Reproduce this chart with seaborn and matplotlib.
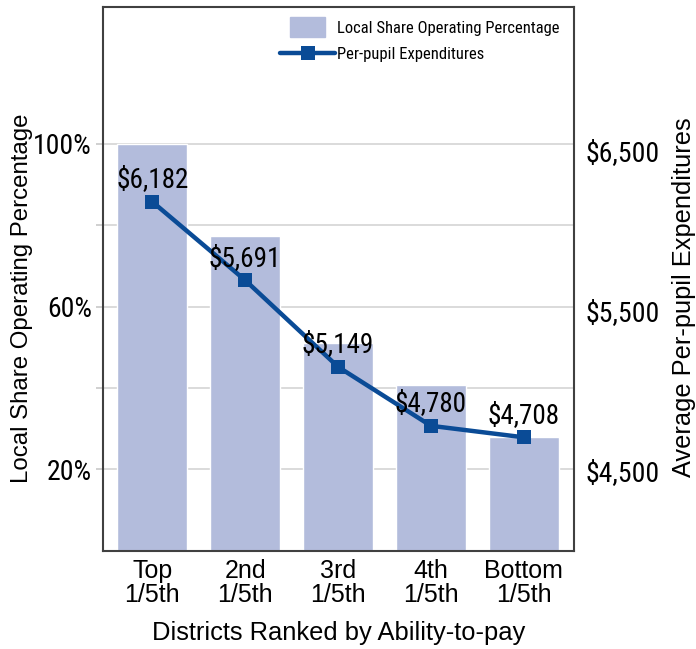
import os
import numpy as np
import pandas as pd
import matplotlib
matplotlib.use("Agg")
import matplotlib.pyplot as plt
import matplotlib.patches as mpatches
from matplotlib import font_manager as fm
from matplotlib.legend_handler import HandlerPatch
import seaborn as sns

# ---- data ----
categories = ["Top\n1/5th", "2nd\n1/5th", "3rd\n1/5th", "4th\n1/5th", "Bottom\n1/5th"]
local_share = [1.00, 0.774, 0.510, 0.407, 0.278]
per_pupil = [6182, 5691, 5149, 4780, 4708]
pct_ticks = [0.2, 0.4, 0.6, 0.8, 1.0]
pct_labels = ["20%", "", "60%", "", "100%"]
dollar_ticks = [4500, 5500, 6500]
dollar_labels = ["$4,500", "$5,500", "$6,500"]

BAR = "#b3bcdc"
LINE = "#0a4b96"
SPINE = "#404040"
GRID = "#d4d4d4"

sns.set_style("white")
plt.rcParams["font.family"] = ["Liberation Sans", "DejaVu Sans"]
for key in ("text.color", "axes.labelcolor", "xtick.color", "ytick.color"):
    plt.rcParams[key] = "black"


def find_face(patterns):
    files = [f.fname for f in fm.fontManager.ttflist]
    for pat in patterns:
        hits = [p for p in files
                if pat.lower() in os.path.basename(p).lower()
                and "bold" not in os.path.basename(p).lower()
                and "italic" not in os.path.basename(p).lower()
                and "light" not in os.path.basename(p).lower()]
        if hits:
            return hits[0]
    return None


# a condensed face for the figures and the legend
narrow_path = find_face(["RobotoCondensed-Regular", "Roboto_Condensed-Regular",
                         "RobotoCondensed", "LiberationSansNarrow-Regular",
                         "NotoSans-Condensed.", "NotoSansDisplay-Condensed."])
if narrow_path:
    NUM = fm.FontProperties(fname=narrow_path, size=20)
    ANN = fm.FontProperties(fname=narrow_path, size=19.5)
    LEG = fm.FontProperties(fname=narrow_path, size=12)
else:
    NUM = fm.FontProperties(family="Liberation Sans", size=17)
    ANN = fm.FontProperties(family="Liberation Sans", size=17)
    LEG = fm.FontProperties(family="Liberation Sans", size=10.5)

W, H = 696, 649
fig = plt.figure(figsize=(W / 100, H / 100), dpi=100)
ax = fig.add_axes([103 / W, 1 - 550.5 / H, 471 / W, 543.5 / H])

df = pd.DataFrame({"group": categories, "share": local_share})
sns.barplot(data=df, x="group", y="share", color=BAR, saturation=1,
            width=0.75, ax=ax, zorder=2)

ax.set_ylim(0, 1.337)
ax.set_yticks(pct_ticks)
ax.set_yticklabels(pct_labels, fontproperties=NUM)
ax.grid(axis="y", color=GRID, lw=1.2, zorder=0)
ax.set_axisbelow(True)
ax.tick_params(axis="y", left=True, right=True, length=5, width=1.2,
               color="#c8c8c8", pad=3)
ax.tick_params(axis="x", length=0, pad=6, labelsize=18)
for lbl in ax.get_xticklabels():
    lbl.set_linespacing(1.0)
ax.set_ylabel("Local Share Operating Percentage", fontsize=17.3)
ax.yaxis.set_label_coords(-0.1486, 0.465)
for s in ax.spines.values():
    s.set_color(SPINE)
    s.set_linewidth(1.5)

ax2 = ax.twinx()
sns.lineplot(x=np.arange(len(per_pupil)), y=per_pupil, ax=ax2, color=LINE,
             lw=3.2, marker="s", markersize=10, markeredgewidth=0)
ax2.set_ylim(4000, 7400)
ax2.set_yticks(dollar_ticks)
ax2.set_yticklabels(dollar_labels, fontproperties=NUM)
ax2.tick_params(axis="y", length=0, pad=8)
ax2.set_ylabel("Average Per-pupil Expenditures", fontsize=18.3)
ax2.yaxis.set_label_coords(1.208, 0.466)
for s in ax2.spines.values():
    s.set_visible(False)

for i, v in enumerate(per_pupil):
    ax2.annotate(f"${v:,}", (i, v), xytext=(0, 10.5), textcoords="offset points",
                 ha="center", va="baseline", fontproperties=ANN)

ax.set_xlim(-0.53, 4.54)
ax.set_xlabel("Districts Ranked by Ability-to-pay", fontsize=18.4, labelpad=10)


def small_rect(legend, orig_handle, xdescent, ydescent, width, height, fontsize):
    w, h = 0.65 * width, 1.7 * height
    return mpatches.Rectangle((-xdescent + (width - w) / 2,
                               -ydescent + (height - h) / 2), w, h)


handles = [mpatches.Patch(color=BAR), ax2.lines[0]]
labels = ["Local Share Operating Percentage", "Per-pupil Expenditures"]
fig.legend(handles, labels, loc="upper left",
           bbox_to_anchor=(280 / W, 1 - 21 / H), frameon=False,
           prop=LEG, handlelength=3.3,
           handletextpad=0.1, labelspacing=0.65, borderpad=0, borderaxespad=0,
           handler_map={mpatches.Patch: HandlerPatch(patch_func=small_rect)})

fig.savefig("out.png", dpi=100)
